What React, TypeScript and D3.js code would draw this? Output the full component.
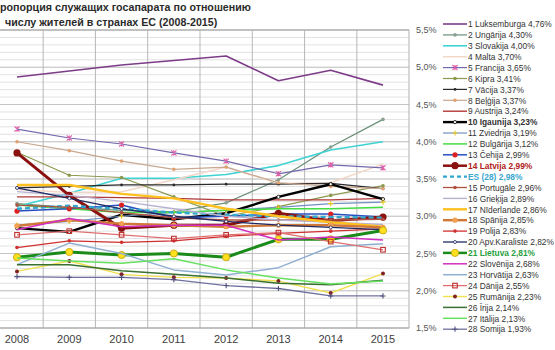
import React from 'react';
import * as d3 from 'd3';

const years = ['2008', '2009', '2010', '2011', '2012', '2013', '2014', '2015'];
const yTicks = [1.5, 2.0, 2.5, 3.0, 3.5, 4.0, 4.5, 5.0, 5.5];
const titleLines = ['ропорция служащих госапарата по отношению', 'числу жителей в странах ЕС (2008-2015)'];

const names = [
  '1 Luksemburga', '2 Ungārija', '3 Slovakija', '4 Malta', '5 Francija', '6 Kipra', '7 Vācija',
  '8 Beļģija', '9 Austrija', '10 Igaunija', '11 Zviedrija', '12 Bulgārija', '13 Čehija',
  '14 Latvija', 'ES (28)', '15 Portugāle', '16 Grieķija', '17 Nīderlande', '18 Spānija',
  '19 Polija', '20 Apv.Karaliste', '21 Lietuva', '22 Slovēnija', '23 Horvātija', '24 Dānija',
  '25 Rumānija', '26 Īrija', '27 Itālija', '28 Somija',
];

const values: number[][] = [
  [4.87, 4.95, 5.03, 5.09, 5.15, 4.82, 4.96, 4.76],
  [3.17, 3.12, 3.08, 3.06, 3.18, 3.49, 3.93, 4.30],
  [3.13, 3.31, 3.51, 3.51, 3.56, 3.68, 3.89, 4.00],
  [3.36, 3.32, 3.33, 3.49, 3.66, 3.44, 3.45, 3.70],
  [4.17, 4.05, 3.97, 3.85, 3.74, 3.57, 3.69, 3.65],
  [3.86, 3.55, 3.52, 3.26, 3.00, 3.13, 3.28, 3.41],
  [3.38, 3.40, 3.42, 3.42, 3.43, 3.43, 3.44, 3.37],
  [4.00, 3.88, 3.74, 3.63, 3.66, 3.45, 3.40, 3.37],
  [3.26, 3.26, 3.25, 3.24, 3.22, 3.22, 3.22, 3.24],
  [2.84, 2.79, 3.02, 2.96, 3.04, 3.26, 3.43, 3.23],
  [2.88, 2.93, 3.00, 3.05, 3.08, 3.12, 3.17, 3.19],
  [3.15, 3.10, 3.05, 3.05, 3.08, 3.10, 3.10, 3.12],
  [3.07, 3.10, 3.15, 2.98, 3.00, 3.03, 3.03, 2.99],
  [3.85, 3.28, 2.84, 2.88, 2.88, 3.04, 2.94, 2.99],
  [3.10, 3.14, 3.10, 3.05, 3.02, 3.00, 2.99, 2.98],
  [3.15, 3.12, 3.05, 2.98, 2.95, 2.95, 2.95, 2.96],
  [3.33, 3.28, 3.20, 3.10, 3.00, 2.95, 2.92, 2.89],
  [3.42, 3.42, 3.30, 3.24, 3.10, 3.00, 2.92, 2.86],
  [2.87, 2.95, 2.90, 2.88, 2.86, 2.88, 2.88, 2.85],
  [2.58, 2.67, 2.65, 2.67, 2.73, 2.77, 2.80, 2.83],
  [3.38, 3.24, 3.10, 3.00, 2.93, 2.88, 2.85, 2.82],
  [2.45, 2.52, 2.48, 2.50, 2.45, 2.69, 2.69, 2.81],
  [2.82, 2.97, 2.86, 2.88, 2.88, 2.68, 2.72, 2.68],
  [2.35, 2.64, 2.50, 2.28, 2.21, 2.31, 2.59, 2.63],
  [2.75, 2.80, 2.75, 2.70, 2.75, 2.78, 2.66, 2.55],
  [2.26, 2.40, 2.22, 2.18, 2.17, 2.13, 1.97, 2.23],
  [2.35, 2.35, 2.27, 2.22, 2.17, 2.10, 2.08, 2.14],
  [2.44, 2.40, 2.37, 2.43, 2.28, 2.17, 2.09, 2.13],
  [2.19, 2.18, 2.18, 2.15, 2.07, 2.03, 1.93, 1.93],
];

type Style = { c: string; w: number; m?: string; mc?: string; ms?: number; dash?: string; tc?: string; bold?: boolean; ring?: string };
const styles: Style[] = [
  { c: '#7d3c88', w: 1.6 },
  { c: '#6a8f78', w: 1.2, m: 'dot', mc: '#8aa090', ms: 1.8 },
  { c: '#3fd3d3', w: 1.6 },
  { c: '#f2d6c8', w: 1.5 },
  { c: '#7468ad', w: 1.2, m: 'star', mc: '#e060a8', ms: 2.6 },
  { c: '#8c9a50', w: 1.2, m: 'dot', mc: '#8c9a50', ms: 1.8 },
  { c: '#2a2a2a', w: 1.2, m: 'dot', mc: '#2a2a2a', ms: 1.4 },
  { c: '#c8a890', w: 1.2, m: 'dot', mc: '#e0a070', ms: 1.8 },
  { c: '#b03838', w: 1.4 },
  { c: '#000000', w: 2.4, m: 'dot', mc: '#ffffff', ms: 1.6, bold: true, ring: '#000' },
  { c: '#7090c0', w: 1.2, m: 'plus', mc: '#e8c820', ms: 2.6 },
  { c: '#44dd44', w: 1.5 },
  { c: '#2850c0', w: 1.5, m: 'dot', mc: '#dd2020', ms: 2.6 },
  { c: '#8b1010', w: 3, m: 'dot', mc: '#8b1010', ms: 3.6, tc: '#b02020', bold: true },
  { c: '#30a8d0', w: 2.4, dash: '5,3', tc: '#3aa6d0', bold: true },
  { c: '#b05040', w: 1.3, m: 'dot', mc: '#b05040', ms: 1.8 },
  { c: '#b8b0d0', w: 1.4 },
  { c: '#ffc020', w: 2.4 },
  { c: '#d07838', w: 2.4, m: 'dot', mc: '#f0a050', ms: 2.6 },
  { c: '#d03030', w: 1.3, m: 'dot', mc: '#d03030', ms: 1.8 },
  { c: '#202a60', w: 1.3, m: 'dot', mc: '#ffffff', ms: 1.5, ring: '#202a60' },
  { c: '#1a8a1a', w: 3, m: 'dot', mc: '#ffe020', ms: 3.6, tc: '#2aa040', bold: true, ring: '#c0a000' },
  { c: '#d030c0', w: 1.5 },
  { c: '#90b0d0', w: 1.5 },
  { c: '#e07070', w: 1.3, m: 'square', mc: '#c03030', ms: 2.3 },
  { c: '#f0e050', w: 1.4, m: 'dot', mc: '#802020', ms: 2 },
  { c: '#3a7030', w: 1.5 },
  { c: '#66e060', w: 1.5 },
  { c: '#7070a0', w: 1.3, m: 'plus', mc: '#505080', ms: 2.6 },
];

const fmtPct = (v: number, d: number) => v.toFixed(d).replace('.', ',') + '%';

function Marker({ x, y, s }: { x: number; y: number; s: Style }) {
  const r = s.ms || 2;
  if (s.m === 'dot') return <circle cx={x} cy={y} r={r} fill={s.mc} stroke={s.ring || 'none'} strokeWidth={0.8} />;
  if (s.m === 'square') return <rect x={x - r} y={y - r} width={2 * r} height={2 * r} fill="none" stroke={s.mc} strokeWidth={1.1} />;
  if (s.m === 'plus') return <path d={`M${x - r},${y}H${x + r}M${x},${y - r}V${y + r}`} stroke={s.mc} strokeWidth={1.1} />;
  if (s.m === 'star') return <path d={`M${x - r},${y - r}L${x + r},${y + r}M${x - r},${y + r}L${x + r},${y - r}M${x},${y - r}V${y + r}`} stroke={s.mc} strokeWidth={1.1} />;
  return null;
}

export default function App() {
  const W = 555, H = 350;
  const right = 409, top = 30, bottom = 328;
  const x = d3.scalePoint<string>().domain(years).range([17, 383]);
  const step = x.step();
  const y = d3.scaleLinear().domain([1.5, 5.5]).range([bottom, top]);
  const minor = d3.range(15, 56).map((v) => v / 10);
  const line = d3.line<number>().x((_, i) => x(years[i]) as number).y((v) => y(v));
  const rowY = (i: number) => 24 + i * 10.9;

  return (
    <svg width={W} height={H} style={{ position: 'fixed', left: 0, top: 0, background: '#fff' }} fontFamily="'Liberation Sans', Arial, sans-serif">
      <rect x={0} y={0} width={W} height={H} fill="#fff" />
      {titleLines.map((t, i) => (
        <text key={t} x={i === 0 ? 0 : 5} y={11 + i * 15} fontSize={10.7} fontWeight="bold" fill="#2b2b2b">{t}</text>
      ))}
      {minor.map((v) => (
        <line key={'m' + v} x1={0} x2={right} y1={y(v)} y2={y(v)} stroke="#e2e2e2" strokeWidth={1} />
      ))}
      {yTicks.map((v) => (
        <line key={'M' + v} x1={0} x2={right} y1={y(v)} y2={y(v)} stroke="#c4c4c4" strokeWidth={1.2} />
      ))}
      {years.slice(0, -1).map((yr) => (
        <line key={'v' + yr} x1={(x(yr) as number) + step / 2} x2={(x(yr) as number) + step / 2} y1={top} y2={bottom} stroke="#b8b8b8" strokeWidth={1} />
      ))}
      <line x1={right} x2={right} y1={top} y2={bottom} stroke="#b0b0b0" />
      <line x1={0} x2={right} y1={top} y2={top} stroke="#a8a8a8" strokeWidth={1.2} />
      <line x1={0} x2={right} y1={bottom} y2={bottom} stroke="#a8a8a8" strokeWidth={1.2} />
      {yTicks.map((v) => (
        <text key={'yt' + v} x={416} y={y(v) + 3} fontSize={9} fill="#555">{fmtPct(v, 1)}</text>
      ))}
      {years.map((yr) => (
        <text key={'xt' + yr} x={x(yr)} y={343} fontSize={11} fill="#404040" textAnchor="middle">{yr}</text>
      ))}
      {values.map((vals, si) => {
        const s = styles[si];
        return (
          <g key={'s' + si}>
            <path d={line(vals) || ''} fill="none" stroke={s.c} strokeWidth={s.w} strokeDasharray={s.dash} strokeLinejoin="round" />
            {s.m && vals.map((v, i) => <Marker key={i} x={x(years[i]) as number} y={y(v)} s={s} />)}
          </g>
        );
      })}
      {names.map((n, i) => {
        const s = styles[i];
        const ry = rowY(i);
        const last = values[i][values[i].length - 1];
        return (
          <g key={'lg' + i}>
            <line x1={443} x2={467} y1={ry} y2={ry} stroke={s.c} strokeWidth={Math.min(s.w, 2.5)} strokeDasharray={s.dash ? '4,3' : undefined} />
            {s.m && <Marker x={455} y={ry} s={s} />}
            <text x={468} y={ry + 3.2} fontSize={s.bold ? 8.4 : 8.4} fill={s.tc || '#333'} fontWeight={s.bold ? 'bold' : 'normal'}>{`${n} ${fmtPct(last, 2)}`}</text>
          </g>
        );
      })}
    </svg>
  );
}
